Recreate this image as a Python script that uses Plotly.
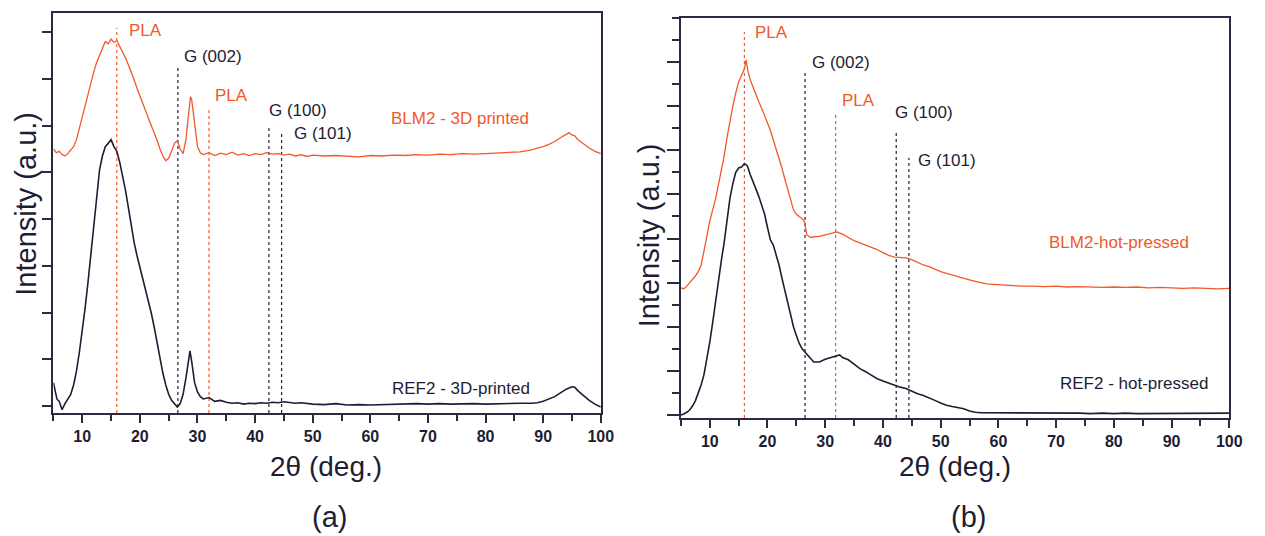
import plotly.graph_objects as go

# ---------------- data ----------------
# panel (a): 3D printed
a_blm_x = [5, 5.5, 6, 6.5, 7, 7.5, 8, 8.5, 9, 9.5, 10, 10.5, 11, 11.5, 12, 12.5, 13, 13.5, 14, 14.5,
           15, 15.5, 16, 16.5, 17, 17.5, 18, 18.5, 19, 19.5, 20, 20.5, 21, 21.5, 22, 22.5, 23, 23.5,
           24, 24.5, 25, 25.5, 26, 26.5, 27, 27.5, 28, 28.5, 28.8, 29, 29.5, 30, 30.5, 31, 32, 33, 34,
           35, 36, 37, 38, 39, 40, 41, 42, 43, 44, 45, 46, 47, 48, 49, 50, 52, 54, 56, 58, 60, 62, 64,
           66, 68, 70, 72, 74, 76, 78, 80, 82, 84, 86, 87, 88, 89, 90, 91, 92, 93, 94, 94.5, 95, 95.5,
           96, 97, 98, 99, 100]
a_blm_y = [5.50, 5.42, 5.45, 5.38, 5.35, 5.40, 5.48, 5.55, 5.70, 5.95, 6.20, 6.45, 6.70, 6.92, 7.15,
           7.35, 7.52, 7.65, 7.80, 7.75, 7.85, 7.78, 7.82, 7.70, 7.60, 7.45, 7.30, 7.15, 6.98, 6.80,
           6.65, 6.50, 6.32, 6.15, 6.00, 5.85, 5.68, 5.50, 5.35, 5.25, 5.30, 5.45, 5.62, 5.68, 5.50,
           5.40, 5.70, 6.30, 6.62, 6.55, 6.00, 5.55, 5.42, 5.38, 5.42, 5.36, 5.41, 5.38, 5.43, 5.37,
           5.40, 5.36, 5.40, 5.38, 5.42, 5.39, 5.40, 5.37, 5.39, 5.35, 5.38, 5.34, 5.37, 5.35, 5.36,
           5.34, 5.33, 5.36, 5.35, 5.37, 5.36, 5.38, 5.37, 5.39, 5.38, 5.40, 5.39, 5.40, 5.41, 5.42,
           5.44, 5.46, 5.48, 5.52, 5.55, 5.60, 5.66, 5.74, 5.82, 5.85, 5.80, 5.78, 5.70, 5.60, 5.52,
           5.45, 5.40]
a_ref_x = [5, 5.3, 5.6, 6, 6.5, 7, 7.5, 8, 8.5, 9, 9.5, 10, 10.5, 11, 11.5, 12, 12.5, 13, 13.5, 14,
           14.5, 15, 15.5, 16, 16.5, 17, 17.5, 18, 18.5, 19, 19.5, 20, 20.5, 21, 21.5, 22, 22.5, 23,
           23.5, 24, 24.5, 25, 25.5, 26, 26.5, 27, 27.5, 28, 28.5, 28.7, 29, 29.5, 30, 30.5, 31, 32,
           33, 34, 35, 36, 37, 38, 39, 40, 41, 42, 43, 44, 45, 46, 47, 48, 49, 50, 52, 54, 56, 58, 60,
           62, 64, 66, 68, 70, 72, 74, 76, 78, 80, 82, 84, 86, 88, 89, 90, 91, 92, 93, 94, 95, 95.5,
           96, 97, 98, 99, 100]
a_ref_y = [0.50, 0.30, 0.15, 0.10, -0.08, 0.05, 0.15, 0.25, 0.45, 0.75, 1.15, 1.60, 2.10, 2.65, 3.25,
           3.90, 4.55, 5.05, 5.35, 5.55, 5.62, 5.70, 5.55, 5.45, 5.22, 4.95, 4.62, 4.25, 3.85, 3.50,
           3.22, 2.98, 2.72, 2.48, 2.25, 1.98, 1.68, 1.35, 1.00, 0.70, 0.45, 0.25, 0.12, 0.06, -0.02,
           0.05, 0.25, 0.60, 1.10, 1.18, 0.95, 0.50, 0.30, 0.20, 0.15, 0.18, 0.10, 0.12, 0.08, 0.06,
           0.07, 0.04, 0.06, 0.05, 0.07, 0.06, 0.08, 0.07, 0.09, 0.07, 0.06, 0.07, 0.05, 0.04, 0.03,
           0.05, 0.02, 0.03, 0.02, 0.03, 0.04, 0.04, 0.05, 0.04, 0.05, 0.04, 0.05, 0.05, 0.04, 0.05,
           0.05, 0.06, 0.06, 0.07, 0.10, 0.15, 0.20, 0.28, 0.36, 0.41, 0.40, 0.33, 0.22, 0.12, 0.04,
           -0.02]

# panel (b): hot-pressed
b_blm_x = [5, 5.5, 6, 6.5, 7, 7.5, 8, 8.5, 9, 9.5, 10, 10.5, 11, 11.5, 12, 12.5, 13, 13.5, 14, 14.5,
           15, 15.5, 16, 16.3, 16.6, 17, 17.5, 18, 18.5, 19, 19.5, 20, 20.5, 21, 21.5, 22, 22.5, 23,
           23.5, 24, 24.5, 25, 25.5, 26, 26.4, 26.8, 27.5, 28, 29, 30, 31, 32, 33, 34, 35, 36, 37, 38,
           39, 40, 41, 42, 43, 44, 45, 46, 47, 48, 49, 50, 51, 52, 53, 54, 55, 56, 57, 58, 59, 60, 62,
           64, 66, 68, 70, 72, 74, 76, 78, 80, 82, 84, 86, 88, 90, 92, 94, 96, 98, 100]
b_blm_y = [2.88, 2.86, 2.92, 2.99, 3.08, 3.15, 3.25, 3.40, 3.72, 4.10, 4.40, 4.65, 4.90, 5.22, 5.55,
           5.88, 6.30, 6.68, 7.00, 7.30, 7.55, 7.70, 7.85, 8.05, 7.80, 7.60, 7.42, 7.25, 7.10, 6.95,
           6.80, 6.62, 6.45, 6.25, 6.00, 5.80, 5.60, 5.35, 5.10, 4.85, 4.65, 4.55, 4.50, 4.45, 4.38,
           4.08, 4.02, 4.04, 4.05, 4.08, 4.12, 4.15, 4.10, 4.02, 3.95, 3.90, 3.85, 3.80, 3.75, 3.68,
           3.62, 3.58, 3.57, 3.56, 3.52, 3.46, 3.40, 3.36, 3.30, 3.25, 3.21, 3.17, 3.13, 3.10, 3.06,
           3.03, 3.00, 2.97, 2.96, 2.95, 2.93, 2.92, 2.92, 2.91, 2.92, 2.90, 2.91, 2.90, 2.89, 2.90,
           2.89, 2.90, 2.88, 2.89, 2.88, 2.87, 2.88, 2.87, 2.86, 2.87]
b_ref_x = [5, 5.5, 6, 6.5, 7, 7.5, 8, 8.5, 9, 9.5, 10, 10.5, 11, 11.5, 12, 12.5, 13, 13.5, 14, 14.5,
           15, 15.5, 16, 16.5, 17, 17.5, 18, 18.5, 19, 19.5, 20, 20.5, 21, 21.5, 22, 22.5, 23, 23.5,
           24, 24.5, 25, 25.5, 26, 26.5, 27, 28, 29, 30, 31, 32, 32.5, 33, 34, 35, 36, 37, 38, 39, 40,
           41, 42, 43, 44, 45, 46, 47, 48, 49, 50, 51, 52, 53, 54, 55, 56, 57, 58, 60, 62, 64, 66, 68,
           70, 72, 74, 76, 78, 80, 82, 84, 86, 88, 90, 92, 94, 96, 98, 100]
b_ref_y = [0.00, 0.02, 0.06, 0.11, 0.20, 0.32, 0.50, 0.68, 0.92, 1.25, 1.65, 2.09, 2.60, 3.05, 3.50,
           3.92, 4.45, 4.92, 5.25, 5.50, 5.60, 5.62, 5.70, 5.65, 5.45, 5.30, 5.12, 4.95, 4.75, 4.55,
           4.25, 3.97, 3.85, 3.65, 3.40, 3.10, 2.83, 2.55, 2.25, 2.00, 1.80, 1.62, 1.50, 1.42, 1.35,
           1.20, 1.20, 1.26, 1.30, 1.35, 1.36, 1.30, 1.25, 1.15, 1.05, 0.98, 0.90, 0.82, 0.77, 0.72,
           0.68, 0.63, 0.60, 0.54, 0.48, 0.44, 0.39, 0.33, 0.27, 0.22, 0.19, 0.16, 0.14, 0.09, 0.06,
           0.05, 0.05, 0.04, 0.05, 0.05, 0.04, 0.05, 0.04, 0.05, 0.04, 0.03, 0.04, 0.03, 0.04, 0.03,
           0.03, 0.04, 0.03, 0.03, 0.04, 0.03, 0.03, 0.04]

# reference peak positions and labels
peak_labels = ["PLA", "G (002)", "PLA", "G (100)", "G (101)"]
peak_kind = ["pla", "g", "pla", "g", "g"]
a_peak_x = [16.0, 26.6, 32.0, 42.4, 44.6]
a_peak_top = [8.09, 7.25, 6.33, 6.01, 5.84]
b_peak_x = [16.0, 26.5, 31.8, 42.3, 44.5]
b_peak_top = [8.68, 7.82, 6.80, 6.46, 5.83]

series_names_a = ["BLM2 - 3D printed", "REF2 - 3D-printed"]
series_names_b = ["BLM2-hot-pressed", "REF2 - hot-pressed"]
x_ticks = [10, 20, 30, 40, 50, 60, 70, 80, 90, 100]
y_ticks = [0, 1, 2, 3, 4, 5, 6, 7, 8]

# ---------------- styling ----------------
ORANGE = "#f2582a"
NAVY = "#1e1d33"
AX = "#2b2a40"
FONT = "Liberation Sans, Arial, sans-serif"

fig = go.Figure()
fig.add_trace(go.Scatter(x=a_blm_x, y=a_blm_y, mode="lines", line=dict(color=ORANGE, width=1.3),
                         xaxis="x", yaxis="y", name=series_names_a[0]))
fig.add_trace(go.Scatter(x=a_ref_x, y=a_ref_y, mode="lines", line=dict(color=NAVY, width=1.6),
                         xaxis="x", yaxis="y", name=series_names_a[1]))
fig.add_trace(go.Scatter(x=b_blm_x, y=b_blm_y, mode="lines", line=dict(color=ORANGE, width=1.3),
                         xaxis="x2", yaxis="y2", name=series_names_b[0]))
fig.add_trace(go.Scatter(x=b_ref_x, y=b_ref_y, mode="lines", line=dict(color=NAVY, width=1.6),
                         xaxis="x2", yaxis="y2", name=series_names_b[1]))

YA = [-0.15, 8.41]
YB = [-0.07, 9.0]

# dotted reference lines
for xr, yr, pxs, pt, yrng in [("x", "y", a_peak_x, a_peak_top, YA), ("x2", "y2", b_peak_x, b_peak_top, YB)]:
    for k, (xv, tv) in enumerate(zip(pxs, pt)):
        col = ORANGE if peak_kind[k] == "pla" else NAVY
        fig.add_shape(type="line", xref=xr, yref=yr, x0=xv, x1=xv, y0=yrng[0], y1=tv,
                      line=dict(color=col, width=1.2, dash="dot"), layer="below")

# label positions (text left edge x, text centre y) in data units
a_lab = [(17.7, 8.04), (27.3, 7.47), (32.7, 6.65), (42.0, 6.33), (46.4, 5.84)]
b_lab = [(17.5, 8.66), (27.3, 7.98), (32.5, 7.14), (41.8, 6.85), (45.7, 5.78)]
for xr, yr, labs in [("x", "y", a_lab), ("x2", "y2", b_lab)]:
    for k, (lx, ly) in enumerate(labs):
        col = ORANGE if peak_kind[k] == "pla" else NAVY
        fig.add_annotation(x=lx, y=ly, xref=xr, yref=yr, text=peak_labels[k], showarrow=False,
                           xanchor="left", yanchor="middle", font=dict(family=FONT, size=17, color=col))

fig.add_annotation(x=63.2, y=6.16, xref="x", yref="y", text=series_names_a[0], showarrow=False,
                   xanchor="left", yanchor="middle", font=dict(family=FONT, size=17, color=ORANGE))
fig.add_annotation(x=63.4, y=0.38, xref="x", yref="y", text=series_names_a[1], showarrow=False,
                   xanchor="left", yanchor="middle", font=dict(family=FONT, size=17, color=NAVY))
fig.add_annotation(x=68.4, y=3.9, xref="x2", yref="y2", text=series_names_b[0], showarrow=False,
                   xanchor="left", yanchor="middle", font=dict(family=FONT, size=17, color=ORANGE))
fig.add_annotation(x=70.3, y=0.72, xref="x2", yref="y2", text=series_names_b[1], showarrow=False,
                   xanchor="left", yanchor="middle", font=dict(family=FONT, size=17, color=NAVY))

W, H = 1265, 536
def px(xp):
    return xp / W
def py(yp):
    return 1 - yp / H

for xc, yc in [(329, 466), (965, 466)]:
    fig.add_annotation(x=px(xc), y=py(yc), xref="paper", yref="paper", text="2θ (deg.)",
                       showarrow=False, xanchor="center", yanchor="middle",
                       font=dict(family=FONT, size=28, color=NAVY))
for xc, yc in [(26, 204), (656, 235)]:
    fig.add_annotation(x=px(xc), y=py(yc), xref="paper", yref="paper", text="Intensity (a.u.)",
                       showarrow=False, xanchor="center", yanchor="middle", textangle=-90,
                       font=dict(family=FONT, size=29, color=NAVY))
for t, xc in [("(a)", 333), ("(b)", 979)]:
    fig.add_annotation(x=px(xc), y=py(517), xref="paper", yref="paper", text=t,
                       showarrow=False, xanchor="center", yanchor="middle",
                       font=dict(family=FONT, size=29, color=NAVY))

xcommon = dict(range=[5, 100], tickvals=x_ticks, ticks="outside", ticklen=8, tickwidth=2,
               tickcolor=AX, showline=True, linewidth=2, linecolor=AX, mirror=True,
               showgrid=False, zeroline=False,
               tickfont=dict(family=FONT, size=16, color=NAVY, weight="bold"),
               minor=dict(dtick=5, tick0=5, ticks="outside", ticklen=6, tickwidth=2, tickcolor=AX))
ycommon = dict(tickvals=y_ticks, ticks="outside", tickwidth=2, tickcolor=AX, showticklabels=False,
               showline=True, linewidth=2, linecolor=AX, mirror=True, showgrid=False, zeroline=False)

fig.update_layout(
    width=W, height=H, margin=dict(l=0, r=0, t=0, b=0),
    paper_bgcolor="white", plot_bgcolor="white", showlegend=False,
    xaxis=dict(domain=[px(54), px(607)], anchor="y", **xcommon),
    yaxis=dict(domain=[py(413), py(13)], anchor="x", range=YA, ticklen=9, **ycommon),
    xaxis2=dict(domain=[px(688), px(1242)], anchor="y2", **xcommon),
    yaxis2=dict(domain=[py(418), py(18)], anchor="x2", range=YB, ticklen=12,
                minor=dict(dtick=0.5, tick0=0, ticks="outside", ticklen=7, tickwidth=2, tickcolor=AX),
                **ycommon),
)

fig.write_html("out.html", config={"displayModeBar": False},
               post_script="document.body.style.margin='0';document.body.style.padding='0';")
